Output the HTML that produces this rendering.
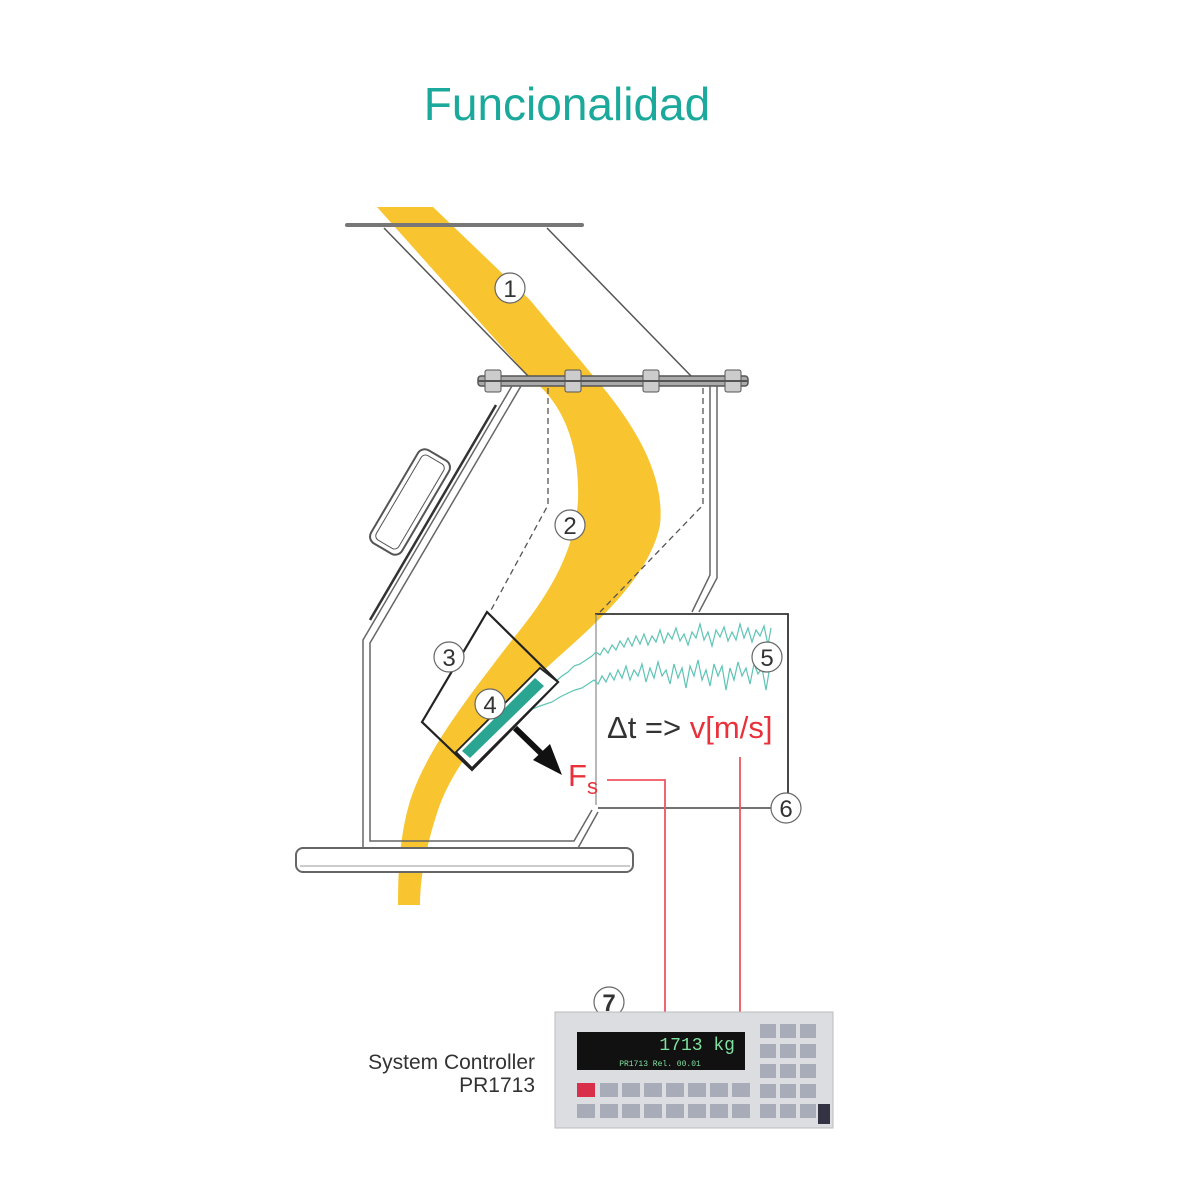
<!DOCTYPE html>
<html><head><style>body{margin:0;background:#fff}svg{display:block}</style></head><body>
<svg width="1200" height="1200" viewBox="0 0 1200 1200" xmlns="http://www.w3.org/2000/svg" font-family="Liberation Sans, sans-serif">
<rect width="1200" height="1200" fill="#fff"/>
<text x="567" y="120" text-anchor="middle" font-size="46" fill="#1aa99a">Funcionalidad</text>
<!-- band -->
<path d="M377,207 L433,207 L530,300 L595,378 C640,430 665,480 660,525 C650,575 600,620 555,660 C500,710 455,760 438,810 C425,850 420,880 420,905 L398,905 C398,870 400,830 412,795 C430,745 470,695 512,640 C545,600 575,555 578,500 C580,440 560,400 530,378 L460,300 Z" fill="#f8c530"/>
<!-- top plate -->
<line x1="347" y1="225" x2="582" y2="225" stroke="#777" stroke-width="4" stroke-linecap="round"/>
<line x1="384" y1="228" x2="530" y2="378" stroke="#555" stroke-width="1.5"/>
<line x1="547" y1="228" x2="693" y2="378" stroke="#555" stroke-width="1.5"/>
<!-- flange -->
<rect x="478" y="376" width="270" height="10" rx="3" fill="#aaa" stroke="#555" stroke-width="1.5"/>
<g fill="#ccc" stroke="#555" stroke-width="1">
<rect x="485" y="370" width="16" height="22" rx="2"/><rect x="565" y="370" width="16" height="22" rx="2"/><rect x="643" y="370" width="16" height="22" rx="2"/><rect x="725" y="370" width="16" height="22" rx="2"/>
</g>
<line x1="478" y1="381" x2="748" y2="381" stroke="#555" stroke-width="2"/>
<!-- walls -->
<g fill="none" stroke="#666" stroke-width="1.5">
<polyline points="512,386 363,640 363,848 578,848 598,812"/>
<polyline points="521,386 370,643 370,841 574,841 592,810"/>
<polyline points="710,386 710,575 692,612"/>
<polyline points="717,386 717,578 699,612"/>
<line x1="496" y1="405" x2="370" y2="620" stroke="#333" stroke-width="2.5"/>
</g>
<!-- handle -->
<g transform="rotate(30.5 410 502)" fill="none" stroke="#555">
<rect x="392" y="448" width="36" height="108" rx="8" stroke-width="2"/>
<rect x="397" y="453" width="26" height="98" rx="5" stroke-width="1"/>
</g>
<!-- dashed -->
<g fill="none" stroke="#555" stroke-width="1.3" stroke-dasharray="6,4">
<polyline points="548,388 548,505 490,612"/>
<polyline points="703,388 703,505 600,612"/>
</g>
<!-- base plate -->
<rect x="296" y="848" width="337" height="24" rx="7" fill="#fff" stroke="#666" stroke-width="2"/>
<line x1="300" y1="866" x2="630" y2="866" stroke="#999" stroke-width="1"/>
<!-- box 5 -->
<polyline points="595,614 788,614 788,795" fill="none" stroke="#333" stroke-width="1.8"/>
<line x1="596" y1="614" x2="596" y2="805" stroke="#888" stroke-width="1.2"/>
<line x1="598" y1="808" x2="772" y2="808" stroke="#444" stroke-width="1.5"/>
<!-- waves -->
<g fill="none" stroke="#5ec4b4" stroke-width="1.2">
<polyline points="545,688 555,682 562,676 568,672 574,666 580,664 586,660 592,656 596,652 600,655 604,648 608,653 612,645 616,650 620,641 624,647 628,638 632,646 636,636 640,644 644,634 648,645 652,636 656,642 660,630 664,643 668,633 672,639 676,628 680,641 684,634 688,645 692,632 696,638 700,624 704,640 708,632 712,646 716,630 720,637 724,627 728,641 732,632 736,640 740,624 744,638 748,628 752,642 756,630 760,636 764,626 768,645 771,628"/>
<polyline points="525,712 540,706 552,702 560,697 568,693 575,690 582,688 588,684 594,680 598,684 602,676 606,682 610,673 614,680 618,670 622,678 626,666 630,680 634,670 638,676 642,664 646,682 650,668 654,678 658,662 662,676 666,670 670,684 674,664 678,678 682,668 686,688 690,666 694,676 698,660 702,680 706,670 710,686 714,664 718,676 722,666 726,690 730,668 734,680 738,662 742,676 746,668 750,684 754,664 758,674 762,668 766,690 770,666"/>
</g>
<!-- sensor -->
<polygon points="487,612 558,682 472,770 422,722" fill="none" stroke="#222" stroke-width="2.2"/>
<polygon points="540,668 558,682 472,768 456,752" fill="#fff" stroke="#222" stroke-width="1.8"/>
<polygon points="535,678 544,686 470,758 462,751" fill="#2aa592"/>
<!-- arrow -->
<line x1="515" y1="728" x2="548" y2="760" stroke="#111" stroke-width="6"/>
<polygon points="562,775 533,760 550,744" fill="#111"/>
<!-- labels -->
<text x="607" y="738" font-size="31" fill="#333">Δt =&gt; <tspan fill="#e8313a">v[m/s]</tspan></text>
<text x="568" y="786" font-size="31" fill="#e8313a">F<tspan font-size="22" dy="8">s</tspan></text>
<polyline points="607,780 665,780 665,1012" fill="none" stroke="#ef5560" stroke-width="1.8"/>
<line x1="740" y1="757" x2="740" y2="1012" stroke="#ef5560" stroke-width="1.8"/>
<!-- circles -->
<g font-size="24" text-anchor="middle" fill="#333">
<g stroke="#666" stroke-width="1.2" fill="#fff">
<circle cx="510" cy="288" r="15"/><circle cx="570" cy="525" r="15"/><circle cx="449" cy="657" r="15"/><circle cx="490" cy="704" r="15"/><circle cx="767" cy="657" r="15"/><circle cx="786" cy="808" r="15"/><circle cx="609" cy="1002" r="15"/>
</g>
<text x="510" y="297">1</text><text x="570" y="534">2</text><text x="449" y="666">3</text><text x="490" y="713">4</text><text x="767" y="666">5</text><text x="786" y="817">6</text><text x="609" y="1011" font-weight="bold">7</text>
</g>
<!-- controller -->
<rect x="555" y="1012" width="278" height="116" fill="#dcdde0" stroke="#bbb"/>
<rect x="577" y="1032" width="168" height="38" fill="#111"/>
<text x="735" y="1050" font-size="18" fill="#7fe0a0" text-anchor="end" font-family="Liberation Mono, monospace">1713 kg</text>
<text x="660" y="1066" font-size="8" fill="#7fe0a0" text-anchor="middle" font-family="Liberation Mono, monospace">PR1713 Rel. 00.01</text>
<rect x="577" y="1083" width="18" height="14" fill="#d8304a"/>
<g fill="#a8abb8">
<rect x="600" y="1083" width="18" height="14"/><rect x="622" y="1083" width="18" height="14"/><rect x="644" y="1083" width="18" height="14"/><rect x="666" y="1083" width="18" height="14"/><rect x="688" y="1083" width="18" height="14"/><rect x="710" y="1083" width="18" height="14"/><rect x="732" y="1083" width="18" height="14"/>
<rect x="577" y="1104" width="18" height="14"/><rect x="600" y="1104" width="18" height="14"/><rect x="622" y="1104" width="18" height="14"/><rect x="644" y="1104" width="18" height="14"/><rect x="666" y="1104" width="18" height="14"/><rect x="688" y="1104" width="18" height="14"/><rect x="710" y="1104" width="18" height="14"/><rect x="732" y="1104" width="18" height="14"/>
<rect x="760" y="1024" width="16" height="14"/><rect x="780" y="1024" width="16" height="14"/><rect x="800" y="1024" width="16" height="14"/>
<rect x="760" y="1044" width="16" height="14"/><rect x="780" y="1044" width="16" height="14"/><rect x="800" y="1044" width="16" height="14"/>
<rect x="760" y="1064" width="16" height="14"/><rect x="780" y="1064" width="16" height="14"/><rect x="800" y="1064" width="16" height="14"/>
<rect x="760" y="1084" width="16" height="14"/><rect x="780" y="1084" width="16" height="14"/><rect x="800" y="1084" width="16" height="14"/>
<rect x="760" y="1104" width="16" height="14"/><rect x="780" y="1104" width="16" height="14"/><rect x="800" y="1104" width="16" height="14"/>
</g>
<rect x="818" y="1104" width="12" height="20" fill="#334" />
<text x="535" y="1069" font-size="21" fill="#333" text-anchor="end">System Controller</text>
<text x="535" y="1092" font-size="21" fill="#333" text-anchor="end">PR1713</text>
</svg>
</body></html>
